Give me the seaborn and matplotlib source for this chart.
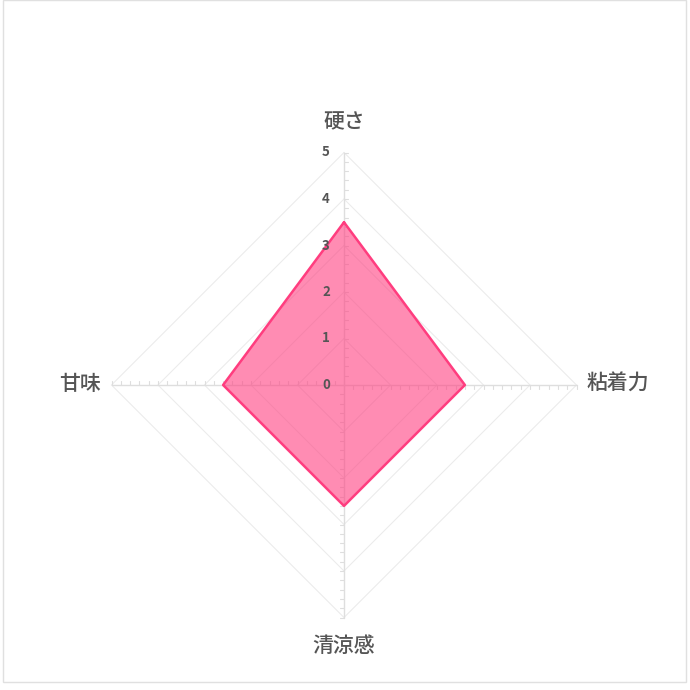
import numpy as np
import pandas as pd
import seaborn as sns
import matplotlib.pyplot as plt
from matplotlib.patches import Rectangle

# 評価項目と値（上から時計回り）
labels = ['硬さ', '粘着力', '清涼感', '甘味']
values = [3.5, 2.6, 2.6, 2.6]
scale_ticks = [0, 1, 2, 3, 4, 5]
r_max = 5

sns.set_theme(style='white')
plt.rcParams['font.family'] = ['Noto Sans CJK JP', 'DejaVu Sans']

angles = np.pi / 2 - np.arange(len(labels)) * 2 * np.pi / len(labels)

df = pd.DataFrame({
    'x': np.append(np.array(values) * np.cos(angles), values[0] * np.cos(angles[0])),
    'y': np.append(np.array(values) * np.sin(angles), values[0] * np.sin(angles[0])),
})

fig = plt.figure(figsize=(6.9, 6.9), dpi=100)
ax = fig.add_axes([0, 0, 1, 1])
unit = 46.5  # px per unit
ax.set_xlim(-344 / unit, (690 - 344) / unit)
ax.set_ylim(-305 / unit, 385 / unit)
ax.axis('off')

grid_color = '#ececec'
axis_color = '#dedede'

# 多角形グリッド
for r in scale_ticks[1:]:
    gx = np.append(r * np.cos(angles), r * np.cos(angles[0]))
    gy = np.append(r * np.sin(angles), r * np.sin(angles[0]))
    ax.plot(gx, gy, color=grid_color, lw=0.8, zorder=1)

# 軸線と目盛り
for a in angles:
    ca, sa = np.cos(a), np.sin(a)
    ax.plot([0, r_max * ca], [0, r_max * sa], color=axis_color, lw=1, zorder=1)
    px, py = sa, -ca  # 垂直方向
    for t in np.arange(0, r_max + 0.01, 0.2):
        L = 0.09
        ax.plot([t * ca, t * ca + L * px], [t * sa, t * sa + L * py],
                color=axis_color, lw=0.8, zorder=1)

# データ
ax.fill(df['x'], df['y'], color='#ff4081', alpha=0.6, lw=0, zorder=2)
sns.lineplot(data=df, x='x', y='y', sort=False, color='#ff3d7f', lw=1.8, ax=ax,
             zorder=3, estimator=None)
ax.axis('off')

# 目盛りラベル
for t in scale_ticks:
    ax.text(-0.39, t, str(t), ha='center', va='center', fontsize=9.5,
            color='#555555', fontweight='bold', zorder=4)

# 項目ラベル
label_pos = [(0, 5.66), (5.89, 0.02), (0, -5.61), (-5.68, 0.02)]
for lab, (lx, ly) in zip(labels, label_pos):
    ax.text(lx, ly, lab, ha='center', va='center', fontsize=15,
            color='#555555', fontweight='medium')

fig.patches.append(Rectangle((3 / 690, 8 / 690), 683 / 690, 682 / 690,
                             transform=fig.transFigure, fill=False,
                             edgecolor='#e0e0e0', lw=1))

fig.savefig('out.png', dpi=100)
